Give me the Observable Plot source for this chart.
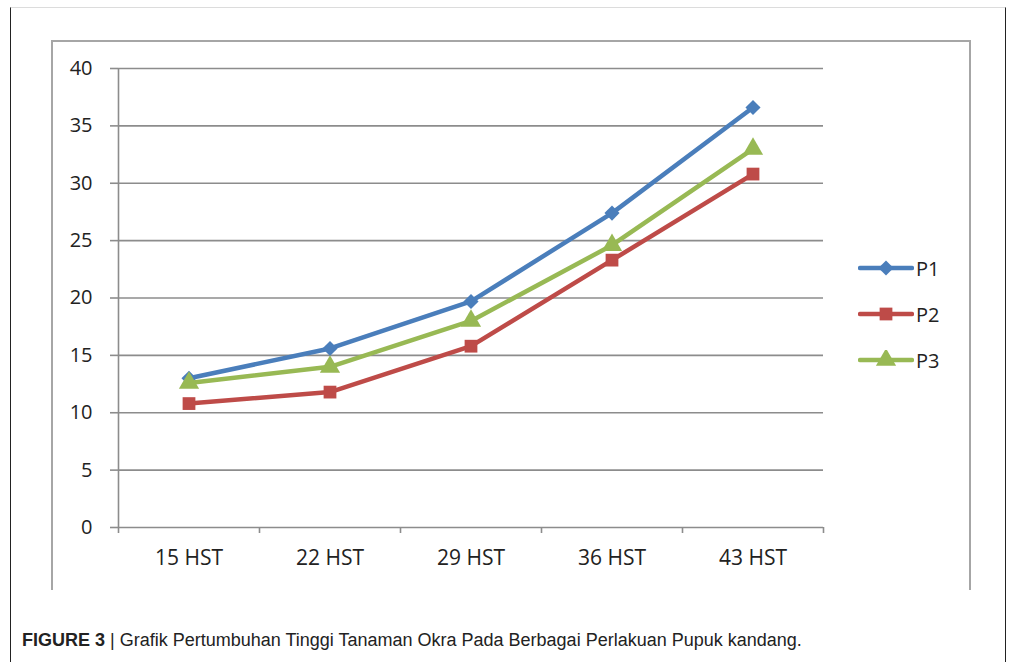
<!DOCTYPE html>
<html>
<head>
<meta charset="utf-8">
<script src="https://cdn.jsdelivr.net/npm/d3@7"></script>
<script src="https://cdn.jsdelivr.net/npm/@observablehq/plot@0.6"></script>
<style>
  html, body { margin: 0; padding: 0; background: #fff; width: 1011px; height: 662px; overflow: hidden; }
  #page { position: relative; width: 1011px; height: 662px; }
  #outer { position: absolute; left: 10px; top: 7px; width: 994px; height: 700px;
           border-top: 1px solid #dcdcdc; border-left: 1px solid #222; border-right: 1px solid #222; }
  #box { position: absolute; left: 51px; top: 40px; width: 916px; height: 548px;
         border: 2px solid #a6a6a6; border-bottom: none; }
  #chart { position: absolute; left: 0; top: 0; }
  #legend { position: absolute; left: 858px; top: 245px; font-family: "Open Sans", sans-serif;
            font-size: 20px; color: #222; }
  .item { display: flex; align-items: center; height: 46px; }
  .item svg { margin-right: 2px; }
  #caption { position: absolute; left: 22px; top: 630px; font-family: "Liberation Sans", Arial, sans-serif;
             font-size: 18px; color: #222; white-space: nowrap; }
</style>
</head>
<body>
<div id="page">
  <div id="outer"></div>
  <div id="box"></div>
  <div id="chart"></div>
  <div id="legend"></div>
  <div id="caption"><b>FIGURE 3</b> | Grafik Pertumbuhan Tinggi Tanaman Okra Pada Berbagai Perlakuan Pupuk kandang.</div>
</div>
<script>
const categories = ["15 HST", "22 HST", "29 HST", "36 HST", "43 HST"];
const seriesNames = ["P1", "P2", "P3"];
const p1 = [13.0, 15.6, 19.7, 27.4, 36.6];
const p2 = [10.8, 11.8, 15.8, 23.3, 30.8];
const p3 = [12.6, 14.0, 18.0, 24.6, 33.0];
const colors = ["#4a7ebb", "#be4b48", "#98b954"];
const symbols = ["diamond2", "square", "triangle"];
const yTicks = [0, 5, 10, 15, 20, 25, 30, 35, 40];

const seriesValues = [p1, p2, p3];
const markerR = [6.8, 7.2, 7.5];
const rows = seriesValues.map((vals, k) =>
  vals.map((v, i) => ({ series: seriesNames[k], pos: i + 0.5, cat: categories[i], value: v })));

const marks = [
  Plot.ruleY(yTicks, { stroke: "#8c8c8c", strokeWidth: 1.6 }),
  Plot.ruleX([0], { y1: 0, y2: 40, stroke: "#8c8c8c", strokeWidth: 1.6 }),
  Plot.axisY({ ticks: yTicks, tickSize: 8, tickPadding: 18, stroke: "#8c8c8c", strokeWidth: 1.6, fill: "#222", label: null }),
  Plot.axisX({ ticks: d3.range(categories.length + 1), tickSize: 6, tickFormat: () => "", stroke: "#8c8c8c", strokeWidth: 1.6, label: null }),
  Plot.axisX({ ticks: categories.map((c, i) => i + 0.5), tickSize: 0, tickPadding: 23,
               tickFormat: d => categories[Math.floor(d)], fill: "#222", fontSize: 21, label: null })
];
rows.forEach((data, k) => {
  marks.push(Plot.line(data, { x: "pos", y: "value", stroke: colors[k], strokeWidth: 4.5 }));
  marks.push(Plot.dot(data, { x: "pos", y: "value", symbol: () => symbols[k], fill: colors[k], r: markerR[k], stroke: "none" }));
});

const chart = Plot.plot({
  width: 1011,
  height: 600,
  marginLeft: 118,
  marginRight: 188,
  marginTop: 68,
  marginBottom: 73,
  x: { domain: [0, categories.length], axis: null },
  y: { domain: [0, 40], axis: null },
  symbol: { type: "identity" },
  style: { fontFamily: "Open Sans, sans-serif", fontSize: "20px", color: "#222", background: "transparent", overflow: "visible" },
  marks
});
document.getElementById("chart").appendChild(chart);

const legend = document.getElementById("legend");
seriesNames.forEach((name, k) => {
  const item = document.createElement("div");
  item.className = "item";
  const sym = d3.symbol(k === 0 ? d3.symbolDiamond2 : k === 1 ? d3.symbolSquare : d3.symbolTriangle,
                        Math.PI * markerR[k] * markerR[k])();
  item.innerHTML = `<svg width="56" height="20"><line x1="2" x2="54" y1="10" y2="10" stroke="${colors[k]}" stroke-width="4.5" stroke-linecap="round"/><path transform="translate(28,10)" d="${sym}" fill="${colors[k]}"/></svg><span>${name}</span>`;
  legend.appendChild(item);
});
</script>
</body>
</html>
